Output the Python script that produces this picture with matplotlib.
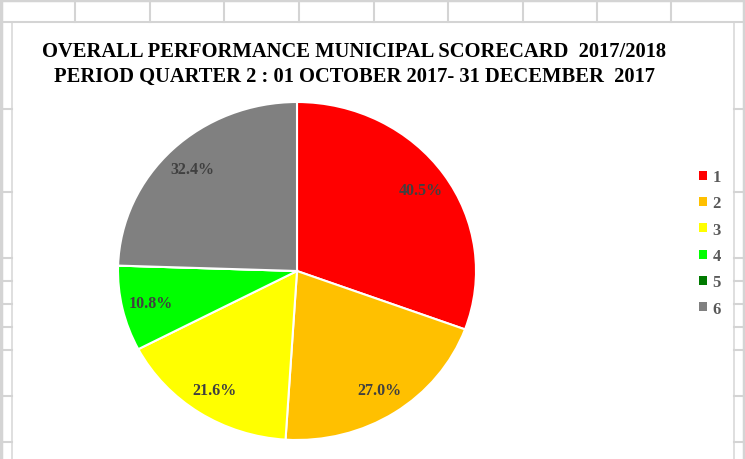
import matplotlib
matplotlib.use("Agg")
import matplotlib.pyplot as plt
from matplotlib.lines import Line2D
from matplotlib.patches import Rectangle

categories = ["1", "2", "3", "4", "5", "6"]
values = [40.5, 27.0, 21.6, 10.8, 0.0, 32.4]
colors = ["#FF0000", "#FFC000", "#FFFF00", "#00FF00", "#007A00", "#808080"]
title_lines = ["OVERALL PERFORMANCE MUNICIPAL SCORECARD  2017/2018",
               "PERIOD QUARTER 2 : 01 OCTOBER 2017- 31 DECEMBER  2017"]

W, H = 745, 460
fig = plt.figure(figsize=(W / 100, H / 100), dpi=100)
fig.patch.set_facecolor("white")

def fx(x):
    return x / W

def fy(y):
    return 1 - y / H

grid_c = "#d4d4d4"
# spreadsheet cells behind the chart
for x in [75, 150, 224, 299, 374, 448, 523, 597, 671]:
    fig.add_artist(Line2D([fx(x), fx(x)], [fy(0), fy(23)], color=grid_c, lw=1.5))
fig.add_artist(Line2D([0, 1], [fy(22.5), fy(22.5)], color=grid_c, lw=1.5))
fig.add_artist(Line2D([0, 1], [fy(1), fy(1)], color=grid_c, lw=2.5))
fig.add_artist(Line2D([fx(1), fx(1)], [0, 1], color=grid_c, lw=2.5))
fig.add_artist(Line2D([fx(744), fx(744)], [0, 1], color=grid_c, lw=2.5))
for y in [110, 193, 259, 282, 305, 328, 351, 397, 443]:
    fig.add_artist(Line2D([0, fx(12)], [fy(y), fy(y)], color=grid_c, lw=1.5))
    fig.add_artist(Line2D([fx(734), 1], [fy(y), fy(y)], color=grid_c, lw=1.5))

# chart area
fig.add_artist(Rectangle((fx(11.5), fy(470)), fx(734) - fx(11.5), fy(23) - fy(470),
                         transform=fig.transFigure, facecolor="white",
                         edgecolor="#d9d9d9", lw=1.2, zorder=1))

# pie axes (slightly elliptical like the reference)
ax = fig.add_axes([fx(118), fy(441), fx(476) - fx(118), fy(103) - fy(441)])
labels = [f"{v:.1f}%" if v > 0 else "" for v in values]
wedges, texts = ax.pie(values, colors=colors, startangle=90, counterclock=False,
                       labels=labels, labeldistance=0.84,
                       wedgeprops=dict(edgecolor="white", linewidth=1.5),
                       textprops=dict(family="Liberation Serif", weight="bold",
                                      fontsize=11.5, color="#404040"))
for t in texts:
    t.set_horizontalalignment("center")
    t.set_verticalalignment("center")
ax.set_aspect("auto")
ax.set_xlim(-1, 1)
ax.set_ylim(-1, 1)
ax.set_zorder(2)

# title
for i, line in enumerate(title_lines):
    fig.text(fx(354), fy(52 + 25 * i), line, ha="center", va="center",
             family="Liberation Serif", weight="bold", fontsize=14.8, color="black",
             zorder=3)

# legend
leg = fig.legend(wedges, categories, loc="upper left",
                 bbox_to_anchor=(fx(684), fy(155)), frameon=False,
                 handlelength=0.45, handleheight=0.45, handletextpad=0.35,
                 labelspacing=0.62, labelcolor="#595959",
                 prop=dict(family="Liberation Serif", weight="bold", size=12))
leg.set_zorder(3)
for h in leg.legend_handles:
    h.set_edgecolor("none")

fig.savefig("out.png", dpi=100, facecolor="white")
